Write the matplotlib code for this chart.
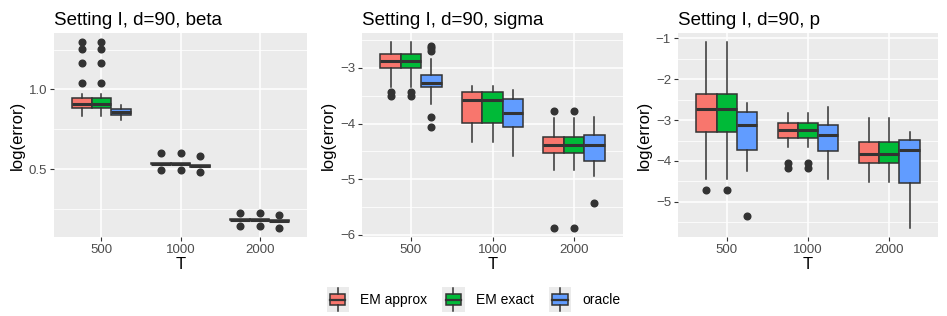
import matplotlib
matplotlib.use("Agg")
import matplotlib.pyplot as plt
from matplotlib.patches import Rectangle
from matplotlib.lines import Line2D
from matplotlib.legend_handler import HandlerBase
import numpy as np

plt.rcParams['font.family'] = ['Liberation Sans', 'DejaVu Sans']

T_labels = ["500", "1000", "2000"]
methods = ["EM approx", "EM exact", "oracle"]
colors = ["#F8766D", "#00BA38", "#619CFF"]
titles = ["Setting I, d=90, beta", "Setting I, d=90, sigma", "Setting I, d=90, p"]

# ---- per method, per T: [whislo, q1, med, q3, whishi]; outliers separately
beta_stats = {
    "EM approx": [[0.833, 0.885, 0.910, 0.945, 0.973], [0.530, 0.530, 0.535, 0.540, 0.540], [0.180, 0.180, 0.183, 0.186, 0.186]],
    "EM exact":  [[0.833, 0.885, 0.910, 0.945, 0.973], [0.530, 0.530, 0.535, 0.540, 0.540], [0.180, 0.180, 0.183, 0.186, 0.186]],
    "oracle":    [[0.808, 0.840, 0.858, 0.879, 0.900], [0.515, 0.515, 0.520, 0.525, 0.525], [0.174, 0.174, 0.177, 0.180, 0.180]],
}
beta_out = {
    "EM approx": [[1.296, 1.254, 1.167, 1.042], [0.600, 0.495], [0.223, 0.144]],
    "EM exact":  [[1.296, 1.254, 1.167, 1.042], [0.600, 0.495], [0.223, 0.144]],
    "oracle":    [[], [0.583, 0.480], [0.213, 0.133]],
}

sigma_stats = {
    "EM approx": [[-3.34, -3.00, -2.88, -2.743, -2.54], [-4.33, -3.99, -3.58, -3.43, -3.32], [-4.83, -4.52, -4.39, -4.24, -3.90]],
    "EM exact":  [[-3.34, -3.00, -2.88, -2.743, -2.54], [-4.33, -3.99, -3.58, -3.43, -3.32], [-4.83, -4.52, -4.39, -4.24, -3.90]],
    "oracle":    [[-3.64, -3.35, -3.27, -3.13, -2.84], [-4.58, -4.06, -3.81, -3.56, -3.39], [-4.94, -4.67, -4.39, -4.20, -3.88]],
}
sigma_out = {
    "EM approx": [[-3.44, -3.50], [], [-3.78, -5.87]],
    "EM exact":  [[-3.44, -3.50], [], [-3.78, -5.87]],
    "oracle":    [[-2.60, -2.64, -2.70, -3.88, -4.06], [], [-5.43]],
}

p_stats = {
    "EM approx": [[-4.45, -3.28, -2.72, -2.37, -1.10], [-3.66, -3.43, -3.24, -3.07, -2.82], [-4.51, -4.06, -3.82, -3.54, -2.94]],
    "EM exact":  [[-4.45, -3.28, -2.72, -2.37, -1.10], [-3.66, -3.43, -3.24, -3.07, -2.82], [-4.51, -4.06, -3.82, -3.54, -2.94]],
    "oracle":    [[-4.24, -3.73, -3.11, -2.80, -2.59], [-4.45, -3.76, -3.37, -3.13, -2.67], [-5.63, -4.54, -3.73, -3.49, -3.29]],
}
p_out = {
    "EM approx": [[-4.71], [-4.04, -4.16], []],
    "EM exact":  [[-4.71], [-4.04, -4.16], []],
    "oracle":    [[-5.35], [], []],
}

panels = [
    (beta_stats, beta_out, [0.5, 1.0], ["0.5", "1.0"], [0.25, 0.75, 1.25]),
    (sigma_stats, sigma_out, [-6, -5, -4, -3], ["\u22126", "\u22125", "\u22124", "\u22123"], [-5.5, -4.5, -3.5, -2.5]),
    (p_stats, p_out, [-5, -4, -3, -2, -1], ["\u22125", "\u22124", "\u22123", "\u22122", "\u22121"], [-5.5, -4.5, -3.5, -2.5, -1.5]),
]

W, H = 947, 316
fig = plt.figure(figsize=(W / 100, H / 100), dpi=100)
lefts = [54, 362, 678]
rights = [307, 623, 938]
top, bottom = 33, 237

dark = "#333333"
for i, (stats, outs, yt, ytl, ymin) in enumerate(panels):
    ax = fig.add_axes([lefts[i] / W, (H - bottom) / H, (rights[i] - lefts[i]) / W, (bottom - top) / H])
    ax.set_facecolor("#EBEBEB")
    for s in ax.spines.values():
        s.set_visible(False)
    allv = []
    for m_i, m in enumerate(methods):
        bxs = []
        for t_i in range(3):
            lo, q1, med, q3, hi = stats[m][t_i]
            bxs.append(dict(whislo=lo, q1=q1, med=med, q3=q3, whishi=hi, fliers=outs[m][t_i]))
            allv += [lo, hi] + list(outs[m][t_i])
        pos = np.arange(1, 4) + (m_i - 1) * 0.25
        ax.bxp(bxs, positions=pos, widths=0.25, patch_artist=True, showcaps=False,
               boxprops=dict(facecolor=colors[m_i], edgecolor=dark, linewidth=1.1),
               medianprops=dict(color=dark, linewidth=2.2, solid_capstyle='butt'),
               whiskerprops=dict(color=dark, linewidth=1.1),
               flierprops=dict(marker='o', markerfacecolor=dark, markeredgecolor=dark, markersize=4.8),
               zorder=3)
    lo, hi = min(allv), max(allv)
    r = hi - lo
    ax.set_ylim(lo - 0.05 * r, hi + 0.05 * r)
    ax.set_xlim(0.4, 3.6)
    ax.set_xticks([1, 2, 3])
    ax.set_xticklabels(T_labels)
    ax.set_yticks(yt)
    ax.set_yticklabels(ytl)
    ax.set_yticks(ymin, minor=True)
    ax.grid(True, which='major', color='white', linewidth=1.1, zorder=0)
    ax.grid(True, which='minor', axis='y', color='white', linewidth=0.55, zorder=0)
    ax.set_axisbelow(True)
    ax.tick_params(axis='both', which='major', length=3, width=0.8, color=dark,
                   labelsize=9.5, labelcolor="#4D4D4D", pad=2)
    ax.tick_params(axis='both', which='minor', length=0)
    ax.set_xlabel("T", fontsize=12, labelpad=1)
    ax.set_ylabel("log(error)", fontsize=12, labelpad=3)
    ax.set_title(titles[i], fontsize=13.5, loc='left', pad=6)


class BoxHandler(HandlerBase):
    def create_artists(self, legend, orig_handle, xdescent, ydescent, width, height, fontsize, trans):
        fc = orig_handle.get_facecolor()
        bg = Rectangle((-xdescent, -ydescent - 4), width, height + 8, facecolor="#EBEBEB", edgecolor='none', transform=trans)
        bx0 = -xdescent + width * 0.15
        bw = width * 0.7
        box = Rectangle((bx0, -ydescent + height * 0.1), bw, height * 0.8, facecolor=fc, edgecolor=dark, linewidth=1.1, transform=trans)
        med = Line2D([bx0, bx0 + bw], [-ydescent + height * 0.5] * 2, color=dark, linewidth=1.6, transform=trans)
        cx = -xdescent + width / 2
        w1 = Line2D([cx, cx], [-ydescent + height * 0.9, -ydescent + height + 3], color=dark, linewidth=1.1, transform=trans)
        w2 = Line2D([cx, cx], [-ydescent - 3, -ydescent + height * 0.1], color=dark, linewidth=1.1, transform=trans)
        return [bg, box, med, w1, w2]

handles = [Rectangle((0, 0), 1, 1, facecolor=c) for c in colors]
fig.legend(handles, methods, handler_map={Rectangle: BoxHandler()}, loc='center',
           bbox_to_anchor=(0.5, (H - 300) / H), ncol=3, frameon=False, fontsize=10,
           handlelength=1.6, handleheight=1.2, handletextpad=0.8, columnspacing=1.1)

fig.savefig("out.png", dpi=100)
